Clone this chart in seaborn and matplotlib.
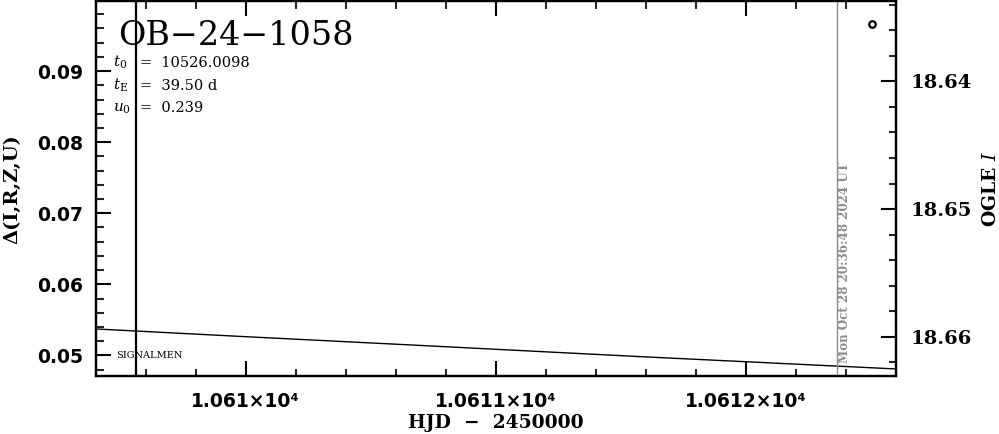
import matplotlib
matplotlib.use("Agg")
import matplotlib.pyplot as plt
import seaborn as sns
import pandas as pd
from matplotlib.ticker import MultipleLocator, FuncFormatter
import matplotlib.transforms as mtransforms

# event info
event_name = "OB-24-1058"
t0_text = "10526.0098"
tE_text = "39.50"
u0_text = "0.239"

# model curve
model_hjd = [10609.4, 10610.0, 10610.58, 10611.58, 10612.6]
model_delta = [0.05373, 0.05264, 0.05162, 0.04983, 0.04810]

# OGLE I data point
ogle_hjd = [10612.505]
ogle_mag = [18.6355]

# vertical markers
marker_hjd = 10609.561
now_hjd = 10612.363
now_label = "Mon Oct 28 20:36:48 2024 UT"

sns.set_theme(style="ticks")
plt.rcParams["font.family"] = ["DejaVu Serif", "DejaVu Sans"]
plt.rcParams["font.weight"] = "bold"
plt.rcParams["text.color"] = "black"
plt.rcParams["mathtext.fontset"] = "custom"
plt.rcParams["mathtext.rm"] = "DejaVu Serif:weight=normal"
plt.rcParams["mathtext.it"] = "DejaVu Serif:style=italic:weight=normal"
plt.rcParams["axes.linewidth"] = 1.6

fig = plt.figure(figsize=(9.99, 4.34), dpi=100)
ax = fig.add_axes([0.0956, 0.1325, 0.8013, 0.8652])
ax2 = ax.twinx()

model = pd.DataFrame({"hjd": model_hjd, "delta": model_delta})
sns.lineplot(data=model, x="hjd", y="delta", ax=ax, color="black", lw=1.0)

ogle = pd.DataFrame({"hjd": ogle_hjd, "mag": ogle_mag})
sns.scatterplot(data=ogle, x="hjd", y="mag", ax=ax2, marker="o", s=22,
                facecolor="white", edgecolor="black", linewidth=1.6, zorder=5)

ax.axvline(marker_hjd, color="black", lw=1.6)
ax.axvline(now_hjd, color="#8c8c8c", lw=1.0)

ax.set_xlim(10609.4, 10612.6)
ax.set_ylim(0.04704, 0.09986)
ax2.set_ylim(18.66312, 18.6337)

ax.xaxis.set_major_locator(MultipleLocator(1))
ax.xaxis.set_minor_locator(MultipleLocator(0.2))
ax.xaxis.set_major_formatter(FuncFormatter(lambda v, p: f"{v / 1e4:g}\u00d710\u2074"))
ax.yaxis.set_major_locator(MultipleLocator(0.01))
ax.yaxis.set_minor_locator(MultipleLocator(0.002))
ax.yaxis.set_major_formatter(FuncFormatter(lambda v, p: f"{v:.2f}"))
ax2.yaxis.set_major_locator(MultipleLocator(0.01))
ax2.yaxis.set_minor_locator(MultipleLocator(0.002))
ax2.yaxis.set_major_formatter(FuncFormatter(lambda v, p: f"{v:.2f}"))

ax.tick_params(which="major", direction="in", length=10.8, width=1.5,
               top=True, right=False, labelsize=13.5, pad=9,
               labelfontfamily="DejaVu Sans", colors="black")
ax.tick_params(which="minor", direction="in", length=5.4, width=1.5,
               top=True, right=False)
ax.tick_params(axis="x", pad=11)
ax2.tick_params(which="major", direction="in", length=10.8, width=1.5,
                labelsize=14, pad=10.5, colors="black")
ax2.tick_params(which="minor", direction="in", length=5.4, width=1.5)

for a in (ax, ax2):
    for s in a.spines.values():
        s.set_color("black")
        s.set_linewidth(1.6)

ax.set_xlabel("HJD  \u2212  2450000", fontsize=13.5, fontweight="bold",
              labelpad=2, color="black")
ax.set_ylabel("\u0394(I,R,Z,U)", fontsize=14, fontweight="bold",
              labelpad=11, color="black")
ax2.set_ylabel(r"OGLE $I$", fontsize=13.5, fontweight="bold",
               labelpad=7, color="black")

ax.text(0.0277, 0.8828, event_name.replace("-", "\u2212"), transform=ax.transAxes,
        fontsize=24, fontweight="normal", va="baseline", ha="left")
params = [(r"$t_0$", f"=  {t0_text}", 0.825),
          (r"$t_\mathrm{E}$", f"=  {tE_text} d", 0.763),
          (r"$u_0$", f"=  {u0_text}", 0.705)]
for sym, val, yy in params:
    ax.text(0.0219, yy, sym, transform=ax.transAxes, fontsize=11,
            fontweight="normal", va="baseline", ha="left")
    ax.text(0.0555, yy, val, transform=ax.transAxes, fontsize=10.5,
            fontweight="normal", va="baseline", ha="left")

ax.text(0.0256, 0.05, "SIGNALMEN", fontsize=7, fontweight="normal",
        va="center", ha="left",
        transform=mtransforms.blended_transform_factory(ax.transAxes, ax.transData))

ax.text(now_hjd + 0.006, 0.035, now_label, rotation=90, color="#8c8c8c",
        fontsize=8.6, ha="left", va="bottom",
        transform=mtransforms.blended_transform_factory(ax.transData, ax.transAxes))

fig.savefig("out.png", dpi=100)
